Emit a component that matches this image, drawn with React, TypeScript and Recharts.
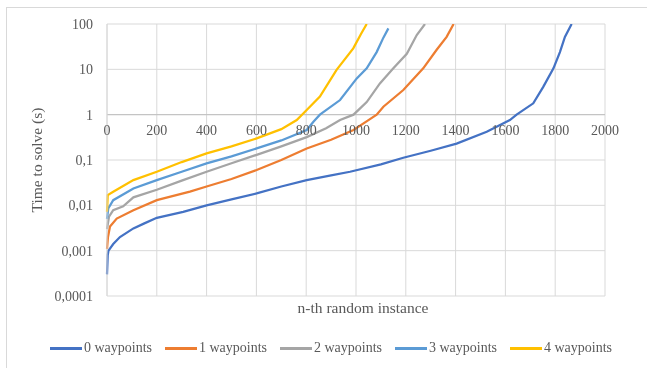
import { LineChart, Line, XAxis, YAxis, CartesianGrid, Legend, ReferenceLine } from 'recharts';

// instance rank (sorted) vs time to solve
const wp0: [number, number][] = [
  [0, 0.0003], [3, 0.0008], [6, 0.001], [25, 0.0014], [52, 0.002], [106, 0.0031], [150, 0.004],
  [200, 0.0053], [306, 0.0072], [400, 0.01], [500, 0.0135], [601, 0.0183], [700, 0.026],
  [802, 0.036], [900, 0.046], [976, 0.055], [1100, 0.08], [1190, 0.112], [1300, 0.16],
  [1404, 0.23], [1525, 0.42], [1618, 0.76], [1645, 1], [1712, 1.78], [1752, 4.1],
  [1793, 10.5], [1819, 24], [1839, 52], [1866, 100],
];
const wp1: [number, number][] = [
  [0, 0.0011], [4, 0.002], [12, 0.0034], [39, 0.0051], [106, 0.0078], [200, 0.013], [333, 0.02],
  [400, 0.026], [500, 0.038], [601, 0.06], [700, 0.1], [802, 0.18], [900, 0.28], [990, 0.46],
  [1050, 0.76], [1083, 1], [1110, 1.5], [1190, 3.5], [1270, 10.5], [1324, 27], [1364, 52],
  [1392, 100],
];
const wp2: [number, number][] = [
  [0, 0.003], [8, 0.0056], [25, 0.0078], [65, 0.0095], [106, 0.015], [200, 0.022], [300, 0.035],
  [400, 0.055], [500, 0.085], [601, 0.13], [700, 0.2], [802, 0.32], [880, 0.5], [936, 0.76],
  [990, 1], [1043, 1.9], [1096, 4.9], [1150, 10.5], [1204, 22], [1244, 57], [1277, 100],
];
const wp3: [number, number][] = [
  [0, 0.005], [5, 0.0085], [25, 0.013], [106, 0.0236], [200, 0.036], [300, 0.055], [400, 0.084],
  [500, 0.12], [601, 0.18], [700, 0.27], [802, 0.46], [829, 0.7], [855, 1], [936, 2.1],
  [1003, 6.3], [1043, 10.5], [1083, 24], [1110, 50], [1130, 80],
];
const wp4: [number, number][] = [
  [0, 0.0072], [3, 0.0168], [25, 0.02], [106, 0.036], [200, 0.055], [300, 0.09], [400, 0.14],
  [500, 0.2], [601, 0.3], [700, 0.48], [762, 0.76], [802, 1.27], [855, 2.5], [922, 9.7],
  [989, 29], [1020, 60], [1043, 100],
];

const seriesNames = ['0 waypoints', '1 waypoints', '2 waypoints', '3 waypoints', '4 waypoints'];
const COLORS = ['#4472C4', '#ED7D31', '#A5A5A5', '#5B9BD5', '#FFC000'];
const xTicks = [0, 200, 400, 600, 800, 1000, 1200, 1400, 1600, 1800, 2000];
const yTicks = [0.0001, 0.001, 0.01, 0.1, 1, 10, 100];

const FONT = '"Liberation Serif", "Times New Roman", serif';
const TEXT = '#595959';
const GRID = '#d9d9d9';

const series = [wp0, wp1, wp2, wp3, wp4].map((pts) => pts.map(([n, t]) => ({ n, t })));

// x labels sit on the y=1 line (Excel axis crossing) instead of the bottom
const XTick = (props: any) => (
  <text x={props.x} y={135} textAnchor="middle" fill={TEXT} fontSize={14} fontFamily={FONT}>
    {props.payload.value}
  </text>
);

const XTitle = (props: any) => {
  const { x, y, width } = props.viewBox;
  return (
    <text x={x + width / 2 + 7} y={y + 17} textAnchor="middle" fill={TEXT} fontSize={15.5} fontFamily={FONT}>
      n-th random instance
    </text>
  );
};

const YTitle = (props: any) => {
  const { x, y, height } = props.viewBox;
  const cx = x + 15;
  const cy = y + height / 2;
  return (
    <text x={cx} y={cy} transform={`rotate(-90 ${cx} ${cy})`} textAnchor="middle" fill={TEXT} fontSize={15.5} fontFamily={FONT}>
      Time to solve (s)
    </text>
  );
};

const LegendBox = () => (
  <div style={{ display: 'flex', paddingLeft: 50, height: 20, alignItems: 'center', fontFamily: FONT, fontSize: 14, color: TEXT }}>
    {seriesNames.map((name, i) => (
      <div key={name} style={{ display: 'flex', alignItems: 'center', width: 115 }}>
        <div style={{ width: 32, height: 3, background: COLORS[i], marginRight: 2 }} />
        <span style={{ whiteSpace: 'nowrap' }}>{name}</span>
      </div>
    ))}
  </div>
);

export default function App() {
  return (
    <>
      <div style={{ position: 'fixed', left: 6, top: 7, width: 700, height: 400, border: `1px solid ${GRID}` }} />
      <div style={{ position: 'fixed', left: 0, top: 0, fontFamily: FONT }}>
        <LineChart width={647} height={368} margin={{ top: 24, right: 42, left: 27, bottom: 10 }}>
          <CartesianGrid stroke={GRID} horizontalValues={yTicks} verticalValues={xTicks} />
          <XAxis
            type="number"
            dataKey="n"
            domain={[0, 2000]}
            ticks={xTicks}
            axisLine={false}
            tickLine={false}
            height={42}
            tick={<XTick />}
            label={<XTitle />}
          />
          <YAxis
            scale="log"
            domain={[0.0001, 100]}
            ticks={yTicks}
            allowDataOverflow
            width={80}
            axisLine={{ stroke: GRID }}
            tickLine={false}
            tickSize={0}
            tickMargin={14}
            tick={{ fill: TEXT, fontSize: 14, fontFamily: FONT }}
            tickFormatter={(v: number) => String(v).replace('.', ',')}
            label={<YTitle />}
          />
          <ReferenceLine y={1} stroke="#bfbfbf" />
          {series.map((d, i) => (
            <Line
              key={seriesNames[i]}
              data={d}
              dataKey="t"
              name={seriesNames[i]}
              stroke={COLORS[i]}
              strokeWidth={2.25}
              dot={false}
              type="linear"
              isAnimationActive={false}
            />
          ))}
          <Legend verticalAlign="bottom" content={<LegendBox />} wrapperStyle={{ left: 0, width: 647 }} />
        </LineChart>
      </div>
    </>
  );
}
